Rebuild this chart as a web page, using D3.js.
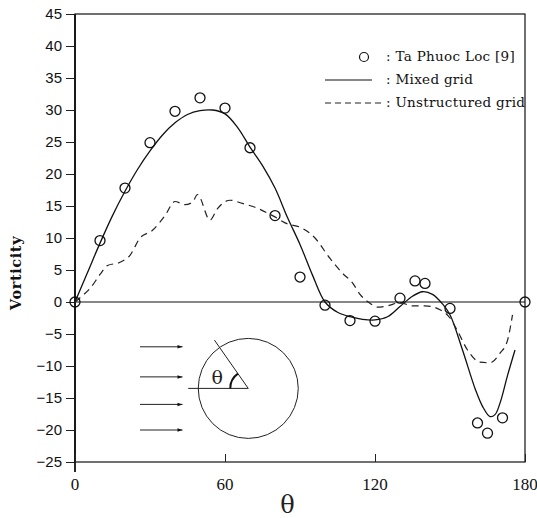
<!DOCTYPE html>
<html>
<head>
<meta charset="utf-8">
<script src="https://cdn.jsdelivr.net/npm/d3@7"></script>
<style>
  body { margin: 0; background: #fff; }
  svg { display: block; }
</style>
</head>
<body>
<script>
// Ta Phuoc Loc [9] (circles)
var obsTheta = [0, 10, 20, 30, 40, 50, 60, 70, 80, 90, 100, 110, 120, 130, 136, 140, 150, 161, 165, 171, 180];
var obsVort  = [0, 9.6, 17.8, 24.9, 29.8, 31.9, 30.3, 24.1, 13.5, 3.9, -0.5, -2.9, -3.0, 0.6, 3.3, 2.9, -1.0, -18.9, -20.5, -18.1, 0];

// Mixed grid (solid)
var mixTheta = [0, 5, 10, 15, 20, 25, 30, 35, 40, 45, 50, 55, 60, 65, 70, 75, 80, 85, 90, 95, 100, 105, 110, 115, 120, 125, 130, 135, 139, 143, 147, 150, 155, 160, 163, 166, 168, 170, 173, 176];
var mixVort  = [0, 4.6, 9.2, 13.5, 17.3, 20.7, 23.6, 26.1, 28, 29.3, 29.9, 30, 29.4, 27.3, 24.2, 21.3, 17.8, 13.2, 9, 4.2, 0, -1.6, -2.3, -2.7, -2.8, -2.3, -0.7, 0.9, 1.6, 1.2, -0.3, -2, -7.5, -13.5, -16.3, -17.9, -17.6, -15.8, -11.5, -7.5];

// Unstructured grid (dashed)
var unsTheta = [0, 3, 6, 10, 13, 18, 22, 26, 31, 36, 40, 44, 47, 49, 54, 57, 62, 67, 72, 79, 85, 90, 96, 102, 107, 111, 114, 118, 121, 125, 130, 135, 140, 146, 150, 153, 157, 162, 166, 170, 173, 175];
var unsVort  = [0, 1, 2.1, 4.3, 5.7, 6.2, 7.3, 10, 11.2, 13.5, 15.7, 15.2, 15.6, 16.8, 12.8, 14.6, 15.9, 15.4, 14.8, 13.5, 12.2, 11.7, 10, 6.8, 4.5, 3, 1.2, -0.2, -0.8, -0.6, -0.1, -0.6, -0.6, -1.2, -2.5, -4.5, -7.5, -9.4, -9.5, -8, -6, -2];

var xTicks = [0, 60, 120, 180];
var yTicks = [-25, -20, -15, -10, -5, 0, 5, 10, 15, 20, 25, 30, 35, 40, 45];
var legendLabels = [": Ta Phuoc Loc [9]", ": Mixed grid", ": Unstructured grid"];

function draw() {
  var W = 537, H = 518;
  var mLeft = 75, mRight = 525, mTop = 14, mBottom = 462;

  var x = d3.scaleLinear().domain([0, 180]).range([mLeft, mRight]);
  var y = d3.scaleLinear().domain([-25, 45]).range([mBottom, mTop]);

  var svg = d3.select("body").append("svg")
    .attr("width", W)
    .attr("height", H);

  function zip(a, b) { return a.map(function(v, i) { return [v, b[i]]; }); }

  // frame
  svg.append("rect")
    .attr("x", mLeft).attr("y", mTop)
    .attr("width", mRight - mLeft).attr("height", mBottom - mTop)
    .attr("fill", "none").attr("stroke", "#111").attr("stroke-width", 1.2);

  // y axis, ticks outward
  var yAxis = d3.axisLeft(y).tickValues(yTicks)
    .tickFormat(function(d) { return d < 0 ? "\u2212" + Math.abs(d) : d; })
    .tickSize(9).tickPadding(4);
  var gy = svg.append("g")
    .attr("transform", "translate(" + mLeft + ",0)")
    .call(yAxis);
  gy.select(".domain").remove();
  gy.selectAll("line").attr("stroke", "#222").attr("stroke-width", 1);
  gy.selectAll("text")
    .attr("font-family", "Liberation Sans, Arial, sans-serif")
    .attr("font-size", 15)
    .attr("fill", "#111");

  // left axis line runs a bit below the frame
  svg.append("line")
    .attr("x1", mLeft).attr("x2", mLeft)
    .attr("y1", mTop).attr("y2", mBottom + 10)
    .attr("stroke", "#111").attr("stroke-width", 1.8);

  // x axis: ticks pointing inward
  var xAxis = d3.axisTop(x).tickValues(xTicks).tickSize(8).tickFormat("");
  var gx = svg.append("g")
    .attr("transform", "translate(0," + mBottom + ")")
    .call(xAxis);
  gx.select(".domain").remove();
  gx.selectAll("line").attr("stroke", "#222");

  svg.append("g").selectAll("text")
    .data(xTicks)
    .enter().append("text")
    .attr("x", function(d) { return x(d); })
    .attr("y", mBottom + 28)
    .attr("text-anchor", "middle")
    .attr("font-family", "Liberation Serif, serif")
    .attr("font-size", 17)
    .attr("fill", "#111")
    .text(function(d) { return d; });

  // axis titles
  svg.append("text")
    .attr("x", x(85)).attr("y", 513)
    .attr("text-anchor", "middle")
    .attr("font-family", "DejaVu Serif, serif")
    .attr("font-size", 24)
    .attr("fill", "#222")
    .text("\u03B8");

  svg.append("text")
    .attr("transform", "translate(21,273) rotate(-90)")
    .attr("text-anchor", "middle")
    .attr("font-family", "DejaVu Serif, serif")
    .attr("font-weight", "bold")
    .attr("font-size", 14.5)
    .attr("letter-spacing", 0.6)
    .attr("fill", "#111")
    .text("Vorticity");

  // zero line
  svg.append("line")
    .attr("x1", mLeft).attr("x2", mRight)
    .attr("y1", y(0)).attr("y2", y(0))
    .attr("stroke", "#111").attr("stroke-width", 1.2);

  // curves
  var line = d3.line()
    .x(function(d) { return x(d[0]); })
    .y(function(d) { return y(d[1]); });

  svg.append("path")
    .datum(zip(mixTheta, mixVort))
    .attr("d", line.curve(d3.curveCatmullRom.alpha(0.5)))
    .attr("fill", "none").attr("stroke", "#111").attr("stroke-width", 1.3);

  svg.append("path")
    .datum(zip(unsTheta, unsVort))
    .attr("d", line.curve(d3.curveMonotoneX))
    .attr("fill", "none").attr("stroke", "#222").attr("stroke-width", 1.2)
    .attr("stroke-dasharray", "7,5");

  svg.append("g").selectAll("circle")
    .data(zip(obsTheta, obsVort))
    .enter().append("circle")
    .attr("cx", function(d) { return x(d[0]); })
    .attr("cy", function(d) { return y(d[1]); })
    .attr("r", 5)
    .attr("fill", "none").attr("stroke", "#111").attr("stroke-width", 1.3);

  // legend
  var lg = svg.append("g").attr("font-family", "DejaVu Serif, serif").attr("font-size", 13.5).attr("fill", "#111");
  var rowY = [57, 80, 103];
  lg.append("circle").attr("cx", 364).attr("cy", rowY[0]).attr("r", 4.5)
    .attr("fill", "none").attr("stroke", "#111").attr("stroke-width", 1.2);
  lg.append("line").attr("x1", 325).attr("x2", 372).attr("y1", rowY[1]).attr("y2", rowY[1])
    .attr("stroke", "#111").attr("stroke-width", 1.2);
  lg.append("line").attr("x1", 325).attr("x2", 382).attr("y1", rowY[2]).attr("y2", rowY[2])
    .attr("stroke", "#222").attr("stroke-width", 1.2).attr("stroke-dasharray", "6,4");
  lg.selectAll("text.lab")
    .data(legendLabels)
    .enter().append("text")
    .attr("class", "lab")
    .attr("x", 386)
    .attr("y", function(d, i) { return rowY[i] + 4; })
    .attr("letter-spacing", 0.3)
    .text(function(d) { return d; });

  // inset: flow past cylinder
  var defs = svg.append("defs");
  defs.append("marker")
    .attr("id", "ah").attr("viewBox", "0 0 10 10")
    .attr("refX", 10).attr("refY", 5)
    .attr("markerWidth", 7).attr("markerHeight", 5)
    .attr("orient", "auto")
    .append("path").attr("d", "M0,1.5 L10,5 L0,8.5 Z").attr("fill", "#111");

  var arrowLevels = [-7, -11.7, -16, -20];
  svg.append("g").selectAll("line")
    .data(arrowLevels)
    .enter().append("line")
    .attr("x1", x(26)).attr("x2", x(43))
    .attr("y1", function(d) { return y(d); })
    .attr("y2", function(d) { return y(d); })
    .attr("stroke", "#222").attr("stroke-width", 1)
    .attr("marker-end", "url(#ah)");

  var cx = x(69.3), cy = y(-13.5), R = 50;
  var inset = svg.append("g");
  inset.append("circle").attr("cx", cx).attr("cy", cy).attr("r", R)
    .attr("fill", "none").attr("stroke", "#222").attr("stroke-width", 1);
  inset.append("line").attr("x1", cx - R - 10).attr("x2", cx).attr("y1", cy).attr("y2", cy)
    .attr("stroke", "#222").attr("stroke-width", 1);
  var ang = 55 * Math.PI / 180;
  inset.append("line")
    .attr("x1", cx).attr("y1", cy)
    .attr("x2", cx - (R + 9) * Math.cos(ang)).attr("y2", cy - (R + 9) * Math.sin(ang))
    .attr("stroke", "#222").attr("stroke-width", 1);
  var arc = d3.arc().innerRadius(17).outerRadius(19)
    .startAngle(-Math.PI / 2).endAngle(-Math.PI / 2 + ang);
  inset.append("path").attr("d", arc())
    .attr("transform", "translate(" + cx + "," + cy + ")")
    .attr("fill", "#111");
  inset.append("text")
    .attr("x", cx - 31).attr("y", cy - 4)
    .attr("text-anchor", "middle")
    .attr("font-family", "DejaVu Serif, serif")
    .attr("font-size", 19)
    .attr("fill", "#222")
    .text("\u03B8");
}
draw();
</script>
</body>
</html>
